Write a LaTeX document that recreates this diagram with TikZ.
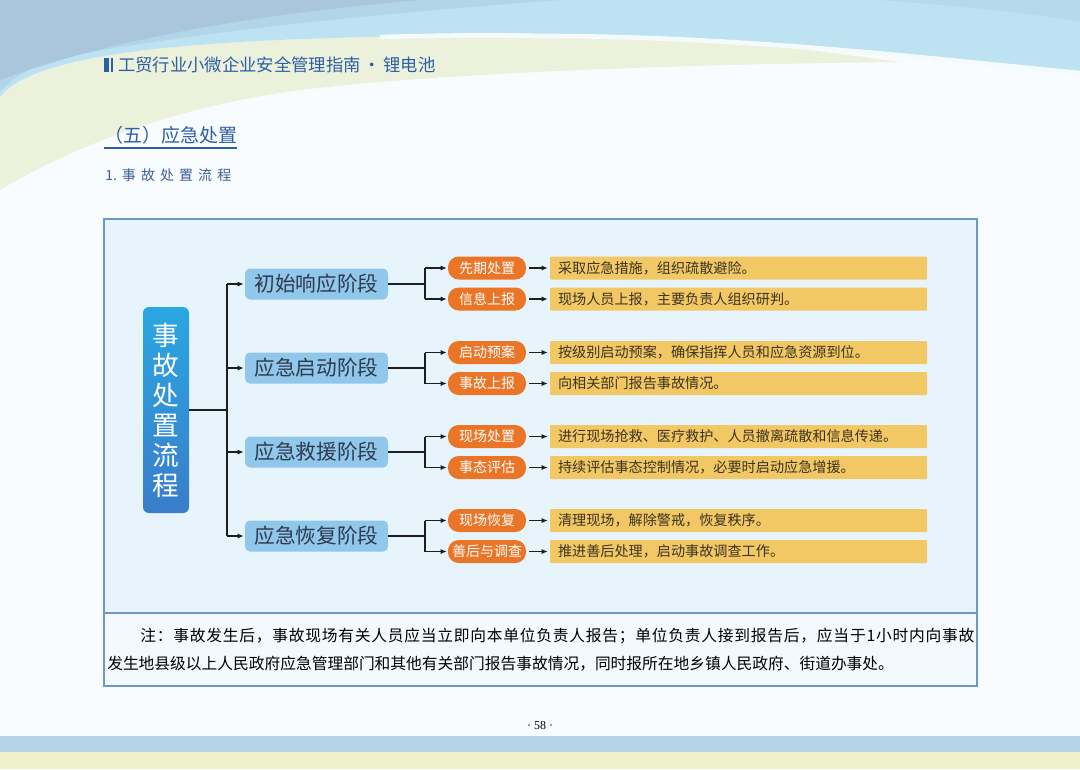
\documentclass[tikz,border=0pt]{standalone}
\usepackage{fontspec}
\setmainfont{Noto Sans CJK SC}
\newfontfamily\cjk{Noto Sans CJK SC}
\newfontfamily\serifnum{Liberation Serif}
\usetikzlibrary{arrows.meta,calc}
\makeatletter
\newcommand\spreadto[2]{\hbox to #1{\spr@first#2\relax}}
\def\spr@first#1{#1\spr@loop}
\def\spr@loop#1{\ifx\relax#1\else\hfil#1\expandafter\spr@loop\fi}
\makeatother
\definecolor{pagebg}{HTML}{F9FCFE}
\definecolor{greenband}{HTML}{EBF1DA}
\definecolor{topblue}{HTML}{BDE2F2}
\definecolor{topbluemid}{HTML}{B3D5E8}
\definecolor{topbluedark}{HTML}{A9C6DC}
\definecolor{hdr}{HTML}{2E5FA6}
\definecolor{subc}{HTML}{3F5F96}
\definecolor{panelfill}{HTML}{E7F4FC}
\definecolor{notefill}{HTML}{F4F9FD}
\definecolor{paneledge}{HTML}{6A98C8}
\definecolor{bigtop}{HTML}{2AA7E2}
\definecolor{bigbot}{HTML}{3A7DCA}
\definecolor{stagefill}{HTML}{90C7EA}
\definecolor{stagetext}{HTML}{2E3B4E}
\definecolor{orangefill}{HTML}{EB7527}
\definecolor{yellowfill}{HTML}{F1C864}
\definecolor{yellowtext}{HTML}{3D3322}
\definecolor{conn}{HTML}{1E1E1E}
\definecolor{bandblue}{HTML}{B7D3E8}
\definecolor{bandyellow}{HTML}{EEF2C8}
\begin{document}
\begin{tikzpicture}[x=0.75pt,y=-0.75pt,
  bigbox/.style={rounded corners=4.5pt, top color=bigtop, bottom color=bigbot,
    minimum width=34.5pt, minimum height=154.5pt, inner sep=0pt, text=white,
    align=center, font=\fontsize{20pt}{22.5pt}\selectfont},
  stagebox/.style={rounded corners=3.75pt, fill=stagefill, minimum width=107.25pt,
    minimum height=23.25pt, inner sep=0pt, text=stagetext,
    font=\fontsize{15.5pt}{17pt}\selectfont},
  obox/.style={rounded corners=8pt, fill=orangefill, minimum width=58.5pt,
    minimum height=17.25pt, inner sep=0pt, text=white,
    font=\fontsize{10.5pt}{12pt}\selectfont},
  ybox/.style={rounded corners=0.75pt, fill=yellowfill, minimum height=17.25pt,
    text width=270.75pt, inner xsep=6pt, inner ysep=0pt, align=left, text=yellowtext,
    font=\fontsize{10.6pt}{12pt}\selectfont},
  cline/.style={draw=conn, line width=1.1pt},
  carrow/.style={cline, -{Latex[length=4.5pt,width=3.8pt]}},
  notetext/.style={anchor=west, inner sep=0pt, text=black,
    font=\fontsize{11.8pt}{14pt}\selectfont}
]
\useasboundingbox (0,0) rectangle (1080,769);
% background
\fill[pagebg] (0,0) rectangle (1080,769);
\fill[greenband] (0,97) .. controls (40,45) and (250,36) .. (540,35)
  .. controls (700,35) and (800,48) .. (900,62)
  .. controls (700,64) and (450,72) .. (300,90)
  .. controls (150,110) and (50,160) .. (0,190) -- cycle;
\fill[topblue] (0,0) -- (1080,0) -- (1080,72)
  .. controls (950,60) and (750,35) .. (540,35)
  .. controls (250,36) and (40,45) .. (0,97) -- cycle;
\fill[topbluemid] (0,0) -- (560,0) .. controls (400,12) and (200,30) .. (60,58)
  .. controls (30,66) and (10,80) .. (0,92) -- cycle;
\fill[topbluedark] (0,0) -- (420,0) .. controls (280,12) and (120,35) .. (0,80) -- cycle;
\fill[topbluemid!70!topblue] (1080,0) -- (880,0) .. controls (960,6) and (1040,14) .. (1080,22) -- cycle;
\draw[white!85!topblue, line width=3.5pt] (380,37) .. controls (460,35) and (500,35) .. (540,36)
  .. controls (750,36) and (950,61) .. (1080,73);
\fill[white!92!bandblue] (0,733) rectangle (1080,736);
\fill[bandblue] (0,736) rectangle (1080,752);
\fill[bandyellow] (0,752) rectangle (1080,769);
% header
\fill[hdr] (104,58) rectangle (109,72);
\fill[hdr] (111,58) rectangle (113,72);
\node[anchor=west, inner sep=0pt, text=hdr, font=\fontsize{13pt}{15pt}\selectfont] (header) at (118,65)
  {\spreadto{236.25pt}{工贸行业小微企业安全管理指南{~·~}锂电池}};
\node[anchor=west, inner sep=0pt, text=hdr, font=\fontsize{14.25pt}{16pt}\selectfont] (title) at (104,135)
  {\spreadto{99.75pt}{（五）应急处置}};
\draw[hdr, line width=1.5pt] (104,147.5) -- (237,147.5);
\node[anchor=west, inner sep=0pt, text=subc, font=\fontsize{10.5pt}{12pt}\selectfont] (sub) at (105,175)
  {\spreadto{94.5pt}{{1.}事故处置流程}};
% panel
\fill[panelfill] (104,219) rectangle (977,613);
\fill[notefill] (104,613) rectangle (977,686);
\draw[paneledge, line width=0.8pt] (104,219) rectangle (977,686);
\draw[paneledge, line width=0.8pt] (104,613) -- (977,613);
% big box
\node[bigbox] (big) at (166,410) {事\\故\\处\\置\\流\\程};
\coordinate (t0) at (227,410);
% stages
\foreach \i/\yy/\txt in {1/284/初始响应阶段,2/368/应急启动阶段,3/452/应急救援阶段,4/536/应急恢复阶段}{
  \node[stagebox] (s\i) at (316.5,\yy) {\txt};
  \coordinate (b\i) at (425,\yy);
}
% items
\foreach \n/\yy/\o/\t in {
  1a/268/先期处置/采取应急措施，组织疏散避险。,
  1b/299/信息上报/现场人员上报，主要负责人组织研判。,
  2a/352.5/启动预案/按级别启动预案，确保指挥人员和应急资源到位。,
  2b/383.5/事故上报/向相关部门报告事故情况。,
  3a/436.5/现场处置/进行现场抢救、医疗救护、人员撤离疏散和信息传递。,
  3b/467.5/事态评估/持续评估事态控制情况，必要时启动应急增援。,
  4a/520.5/现场恢复/清理现场，解除警戒，恢复秩序。,
  4b/551.5/善后与调查/推进善后处理，启动事故调查工作。}{
  \node[obox] (o\n) at (487,\yy) {\o};
  \node[ybox] (y\n) at (738.5,\yy) {\t};
  \draw[carrow] ($(o\n.east)+(3,0)$) -- ($(y\n.west)+(-2,0)$);
}
% trunk connectors
\draw[cline] (big.east) -- (t0);
\draw[cline] (t0 |- s1.west) -- (t0 |- s4.west);
\foreach \i in {1,2,3,4}{
  \draw[carrow] (t0 |- s\i.west) -- ($(s\i.west)+(-1,0)$);
  \draw[cline] (s\i.east) -- (b\i);
  \draw[cline] (b\i |- o\i a.west) -- (b\i |- o\i b.west);
  \draw[carrow] (b\i |- o\i a.west) -- ($(o\i a.west)+(-1,0)$);
  \draw[carrow] (b\i |- o\i b.west) -- ($(o\i b.west)+(-1,0)$);
}
% note
\node[notetext] (note1) at (140,636)
  {\spreadto{625.5pt}{注：事故发生后，事故现场有关人员应当立即向本单位负责人报告；单位负责人接到报告后，应当于1小时内向事故}};
\node[notetext] (note2) at (107,664)
  {发生地县级以上人民政府应急管理部门和其他有关部门报告事故情况，同时报所在地乡镇人民政府、街道办事处。};
% page number
\node[font=\serifnum\fontsize{9pt}{10pt}\selectfont, inner sep=0pt] (pg) at (540,726) {· 58 ·};
\end{tikzpicture}
\end{document}
